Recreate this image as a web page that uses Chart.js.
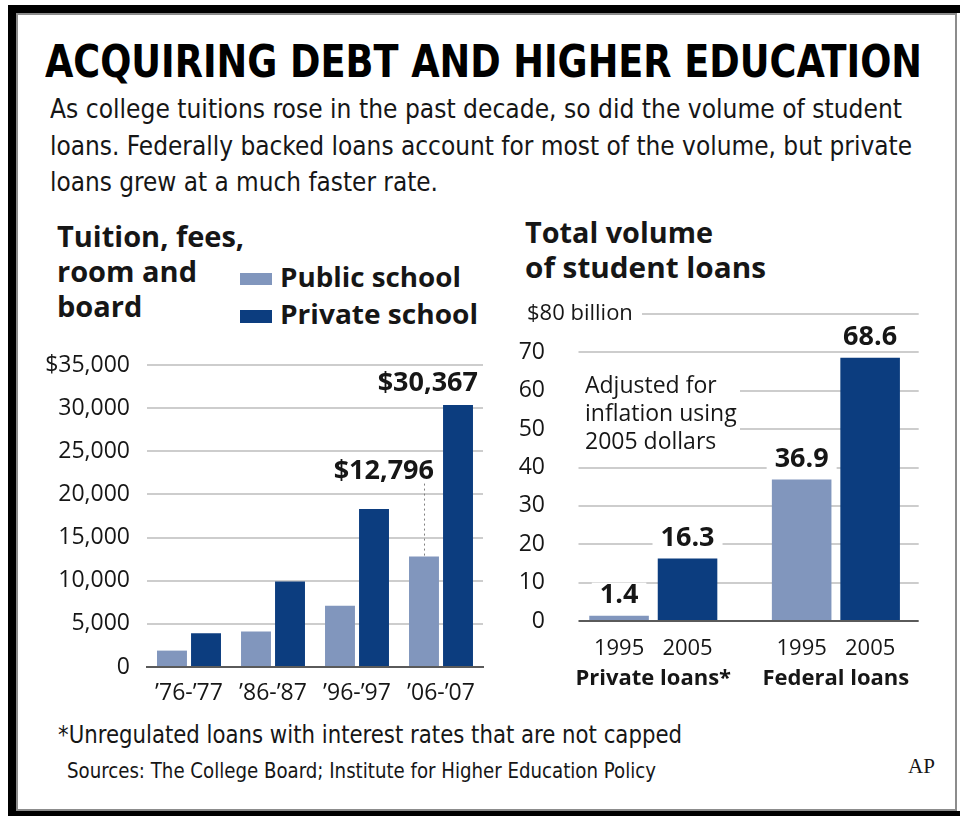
<!DOCTYPE html>
<html>
<head>
<meta charset="utf-8">
<script src="https://cdn.jsdelivr.net/npm/chart.js@4.4.1/dist/chart.umd.min.js"></script>
<style>
    html, body { margin: 0; padding: 0; width: 960px; height: 816px; overflow: hidden; background: #fff; }
    #marco { position: absolute; left: 8px; top: 5px; width: 952px; height: 811px; background: #000; }
    #hoja { position: absolute; left: 16px; top: 13px; width: 937px; height: 794px; background: #fff; border: 2px solid #8c8c8c; }
    #borde { position: absolute; left: 957px; top: 13px; width: 3px; height: 798px; background: #fff; }
    .txt { position: absolute; white-space: nowrap; line-height: 1; color: #161616; transform-origin: 0 0; }
    .angosto { font-family: "Liberation Sans Narrow", "DejaVu Sans Condensed", "Roboto", sans-serif; }
    .abierto { font-family: "Open Sans", "Noto Sans", sans-serif; font-weight: 700; }
    .muestra { position: absolute; width: 32px; }
    canvas { position: absolute; }
</style>
</head>
<body>
<div id="marco"></div>
<div id="hoja"></div>
<div id="borde"></div>

<div class="txt angosto" style="left:45px;font-size:45px;font-weight:700;color:#000" data-base="77" data-ancho="877">ACQUIRING DEBT AND HIGHER EDUCATION</div>
<div class="txt angosto sub" style="left:50px;font-size:27px" data-base="118" data-ancho="852">As college tuitions rose in the past decade, so did the volume of student</div>
<div class="txt angosto sub" style="left:50px;font-size:27px" data-base="155" data-ancho="862">loans. Federally backed loans account for most of the volume, but private</div>
<div class="txt angosto sub" style="left:50px;font-size:27px" data-base="191" data-ancho="388">loans grew at a much faster rate.</div>

<div class="txt abierto" style="left:57px;font-size:29px" data-base="247">Tuition, fees,</div>
<div class="txt abierto" style="left:57px;font-size:29px" data-base="282">room and</div>
<div class="txt abierto" style="left:57px;font-size:29px" data-base="317">board</div>

<div class="muestra" id="muestraPublica" style="left:240px;top:273px;height:12px"></div>
<div class="muestra" id="muestraPrivada" style="left:240px;top:310px;height:13px"></div>
<div class="txt abierto" style="left:280px;font-size:26px" data-base="287" data-ancho="181">Public school</div>
<div class="txt abierto" style="left:280px;font-size:26px" data-base="324" data-ancho="198">Private school</div>

<div class="txt abierto" style="left:525px;font-size:29px" data-base="243" data-ancho="188">Total volume</div>
<div class="txt abierto" style="left:525px;font-size:29px" data-base="278" data-ancho="241">of student loans</div>

<div class="txt angosto" style="left:58px;font-size:25px" data-base="743" data-ancho="624">*Unregulated loans with interest rates that are not capped</div>
<div class="txt angosto" style="left:67px;font-size:22px" data-base="778" data-ancho="589">Sources: The College Board; Institute for Higher Education Policy</div>
<div class="txt" style="left:908px;font-size:21px;font-family:'Liberation Serif',serif" data-base="773">AP</div>

<canvas id="graficaMatricula" width="460" height="390" style="left:40px;top:330px"></canvas>
<canvas id="graficaPrestamos" width="460" height="420" style="left:500px;top:290px"></canvas>

<script>
// Tuition, fees, room and board (dollars)
const categoriasMatricula = ["’76-’77", "’86-’87", "’96-’97", "’06-’07"];
const costoPublica = [1900, 4100, 7100, 12796];
const costoPrivada = [3900, 9900, 18300, 30367];
const ticksMatricula = [0, 5000, 10000, 15000, 20000, 25000, 30000, 35000];

// Total volume of student loans (billions)
const categoriasPrestamos = ["Private loans*", "Federal loans"];
const aniosPrestamos = ["1995", "2005"];
const prestamos1995 = [1.4, 36.9];
const prestamos2005 = [16.3, 68.6];
const ticksPrestamos = [0, 10, 20, 30, 40, 50, 60, 70, 80];
const notaPrestamos = ["Adjusted for", "inflation using", "2005 dollars"];

const colorPublica = "#8196bd";
const colorPrivada = "#0c3d7f";
const colorTexto = "#161616";
const colorRejilla = "#cdcdcd";
const colorBase = "#5a5a5a";
const fuente = "'Open Sans', 'Noto Sans', sans-serif";

document.getElementById("muestraPublica").style.background = colorPublica;
document.getElementById("muestraPrivada").style.background = colorPrivada;

function dinero(valor) {
    return "$" + valor.toLocaleString("en-US");
}

function colocarTextos() {
    document.querySelectorAll(".txt").forEach(el => {
        const marca = document.createElement("span");
        marca.style.cssText = "display:inline-block;width:0;height:0;vertical-align:baseline";
        el.appendChild(marca);
        el.style.top = (Number(el.dataset.base) - marca.offsetTop) + "px";
        if (el.dataset.ancho) {
            const ancho = el.getBoundingClientRect().width;
            el.style.transform = `scaleX(${Number(el.dataset.ancho) / ancho})`;
        }
    });
}

const etiquetasMatricula = {
    id: "etiquetasMatricula",
    afterDatasetsDraw(chart) {
        const { ctx } = chart;
        const ultimo = costoPublica.length - 1;
        const barPublica = chart.getDatasetMeta(0).data[ultimo];
        const barPrivada = chart.getDatasetMeta(1).data[ultimo];
        ctx.save();
        ctx.font = `bold 27px ${fuente}`;
        ctx.fillStyle = colorTexto;
        ctx.textAlign = "right";
        ctx.textBaseline = "middle";
        ctx.fillText(dinero(costoPrivada[ultimo]), barPrivada.x + barPrivada.width / 2 + 5, barPrivada.y - 22);
        const yEtiqueta = barPublica.y - 85;
        ctx.fillText(dinero(costoPublica[ultimo]), barPublica.x + 10, yEtiqueta);
        ctx.setLineDash([2, 3]);
        ctx.strokeStyle = "#808080";
        ctx.lineWidth = 1;
        ctx.beginPath();
        ctx.moveTo(Math.round(barPublica.x) + 0.5, yEtiqueta + 12);
        ctx.lineTo(Math.round(barPublica.x) + 0.5, barPublica.y);
        ctx.stroke();
        ctx.restore();
    }
};

const rejillaPrestamos = {
    id: "rejillaPrestamos",
    beforeDatasetsDraw(chart, args, opts) {
        const { ctx, chartArea, scales: { y } } = chart;
        ctx.save();
        ctx.strokeStyle = colorRejilla;
        ctx.lineWidth = 2;
        y.ticks.forEach(tick => {
            if (tick.value === 0) return;
            const py = Math.round(y.getPixelForValue(tick.value));
            ctx.beginPath();
            ctx.moveTo(chartArea.left + opts.inicio, py);
            ctx.lineTo(chartArea.right - opts.fin, py);
            ctx.stroke();
        });
        ctx.restore();
    },
    afterDatasetsDraw(chart, args, opts) {
        const { ctx, chartArea, scales: { y } } = chart;
        ctx.save();
        const py0 = Math.round(y.getPixelForValue(0));
        ctx.strokeStyle = colorBase;
        ctx.lineWidth = 2;
        ctx.beginPath();
        ctx.moveTo(chartArea.left + opts.inicio, py0);
        ctx.lineTo(chartArea.right - opts.fin, py0);
        ctx.stroke();

        // "$80 billion" on the top line
        const py80 = y.getPixelForValue(ticksPrestamos[ticksPrestamos.length - 1]);
        ctx.fillStyle = "#fff";
        ctx.fillRect(chartArea.left - 40, py80 - 14, 120, 28);
        ctx.fillStyle = colorTexto;
        ctx.font = `22px ${fuente}`;
        ctx.textAlign = "left";
        ctx.textBaseline = "middle";
        ctx.fillText(dinero(ticksPrestamos[ticksPrestamos.length - 1]) + " billion", chartArea.left - 35, py80);

        // note
        const pyNota = y.getPixelForValue(61);
        ctx.fillStyle = "#fff";
        ctx.fillRect(chartArea.left + 16, pyNota - 16, 162, 86);
        ctx.fillStyle = colorTexto;
        ctx.font = `23px ${fuente}`;
        notaPrestamos.forEach((linea, i) => ctx.fillText(linea, chartArea.left + 23, pyNota + i * 28));

        // values and years
        chart.data.datasets.forEach((ds, i) => {
            chart.getDatasetMeta(i).data.forEach((bar, j) => {
                const texto = ds.data[j].toFixed(1);
                ctx.font = `bold 27px ${fuente}`;
                const ancho = ctx.measureText(texto).width;
                const cy = bar.y - 20;
                ctx.fillStyle = "#fff";
                ctx.fillRect(bar.x - ancho / 2 - 8, cy - 13, ancho + 16, 26);
                ctx.fillStyle = colorTexto;
                ctx.textAlign = "center";
                ctx.fillText(texto, bar.x, cy);
                ctx.font = `22px ${fuente}`;
                ctx.fillText(aniosPrestamos[i], bar.x, chartArea.bottom + 28);
            });
        });
        ctx.restore();
    }
};

function pintarGraficos() {
    new Chart(document.getElementById("graficaMatricula"), {
        type: "bar",
        data: {
            labels: categoriasMatricula,
            datasets: [
                { label: "Public school", data: costoPublica, backgroundColor: colorPublica, categoryPercentage: 0.81, barPercentage: 0.88 },
                { label: "Private school", data: costoPrivada, backgroundColor: colorPrivada, categoryPercentage: 0.81, barPercentage: 0.88 }
            ]
        },
        options: {
            responsive: false,
            animation: false,
            layout: { padding: { top: 35, right: 17, left: 0, bottom: 0 } },
            plugins: { legend: { display: false }, tooltip: { enabled: false } },
            scales: {
                x: {
                    grid: { display: false, drawTicks: false },
                    border: { color: colorBase, width: 2 },
                    ticks: { color: colorTexto, font: { family: fuente, size: 23 }, padding: 13 },
                    afterFit(scale) { scale.height = 53; }
                },
                y: {
                    min: ticksMatricula[0],
                    max: ticksMatricula[ticksMatricula.length - 1],
                    afterBuildTicks(scale) { scale.ticks = ticksMatricula.map(v => ({ value: v })); },
                    ticks: {
                        color: colorTexto,
                        font: { family: fuente, size: 23 },
                        padding: 17,
                        callback: v => v === ticksMatricula[ticksMatricula.length - 1] ? dinero(v) : v.toLocaleString("en-US")
                    },
                    grid: { color: colorRejilla, lineWidth: 2, drawTicks: false },
                    border: { display: false },
                    afterFit(scale) { scale.width = 107; }
                }
            }
        },
        plugins: [etiquetasMatricula]
    });

    new Chart(document.getElementById("graficaPrestamos"), {
        type: "bar",
        data: {
            labels: categoriasPrestamos,
            datasets: [
                { label: aniosPrestamos[0], data: prestamos1995, backgroundColor: colorPublica, categoryPercentage: 0.75, barPercentage: 0.87 },
                { label: aniosPrestamos[1], data: prestamos2005, backgroundColor: colorPrivada, categoryPercentage: 0.75, barPercentage: 0.87 }
            ]
        },
        options: {
            responsive: false,
            animation: false,
            layout: { padding: { top: 24, right: 23, left: 0, bottom: 0 } },
            plugins: {
                legend: { display: false },
                tooltip: { enabled: false },
                rejillaPrestamos: { inicio: 16.5, fin: 8.5 }
            },
            scales: {
                x: {
                    grid: { display: false, drawTicks: false },
                    border: { display: false },
                    ticks: { color: colorTexto, font: { family: fuente, size: 22, weight: "bold" }, padding: 45 },
                    afterFit(scale) { scale.height = 89; }
                },
                y: {
                    min: ticksPrestamos[0],
                    max: ticksPrestamos[ticksPrestamos.length - 1],
                    afterBuildTicks(scale) { scale.ticks = ticksPrestamos.map(v => ({ value: v })); },
                    ticks: {
                        color: colorTexto,
                        font: { family: fuente, size: 23 },
                        padding: 9,
                        callback: v => v === ticksPrestamos[ticksPrestamos.length - 1] ? "" : String(v)
                    },
                    grid: { display: false },
                    border: { display: false },
                    afterFit(scale) { scale.width = 62; }
                }
            }
        },
        plugins: [rejillaPrestamos]
    });
}

colocarTextos();
pintarGraficos();
</script>
</body>
</html>
